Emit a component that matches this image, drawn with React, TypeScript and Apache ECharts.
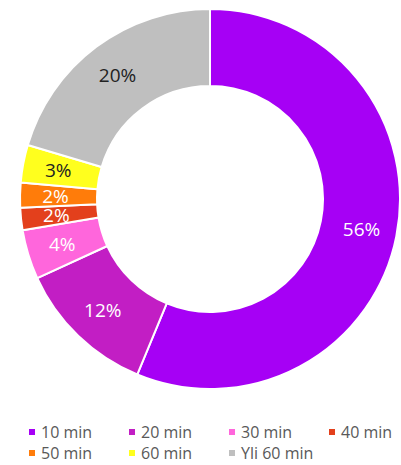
import React, { useEffect, useRef } from "react";
import * as echarts from "echarts";

const categories = ["10 min", "20 min", "30 min", "40 min", "50 min", "60 min", "Yli 60 min"];
const values = [56.2, 11.9, 4.2, 1.9, 2.1, 3.2, 20.4];
const colors = ["#A600F5", "#C21EC4", "#FF66DC", "#E3401C", "#FF7C0A", "#FFFF1E", "#BFBFBF"];
const labelColors = ["#FFFFFF", "#FFFFFF", "#FFFFFF", "#FFFFFF", "#FFFFFF", "#222222", "#222222"];

export default function App() {
  const ref = useRef<HTMLDivElement>(null);
  useEffect(() => {
    if (!ref.current) return;
    const chart = echarts.init(ref.current, undefined, { renderer: "svg" });
    const legendText = {
      color: "#595959",
      fontSize: 16,
      fontFamily: "Open Sans",
      width: 79,
      lineHeight: 20,
    };
    const legendBase = {
      left: 27,
      width: 395,
      padding: 0,
      orient: "horizontal",
      itemWidth: 8,
      itemHeight: 8,
      itemGap: 7,
      icon: "rect",
      textStyle: legendText,
    };
    chart.setOption({
      animation: false,
      backgroundColor: "#FFFFFF",
      color: colors,
      legend: [
        { ...legendBase, data: categories.slice(0, 4), top: 422 },
        { ...legendBase, data: categories.slice(4), top: 443 },
      ],
      series: [
        {
          type: "pie",
          center: [210, 199],
          radius: [113, 190],
          startAngle: 90,
          clockwise: true,
          avoidLabelOverlap: false,
          itemStyle: { borderColor: "#FFFFFF", borderWidth: 2 },
          label: {
            show: true,
            position: "inside",
            fontSize: 19,
            fontFamily: "Open Sans",
            formatter: (p: any) => Math.round(p.value) + "%",
          },
          labelLine: { show: false },
          data: categories.map((name, i) => ({
            name,
            value: values[i],
            label: { color: labelColors[i] },
          })),
        },
      ],
    });
    return () => chart.dispose();
  }, []);
  return (
    <div
      ref={ref}
      style={{ position: "fixed", left: 0, top: 0, width: 401, height: 465 }}
    />
  );
}
